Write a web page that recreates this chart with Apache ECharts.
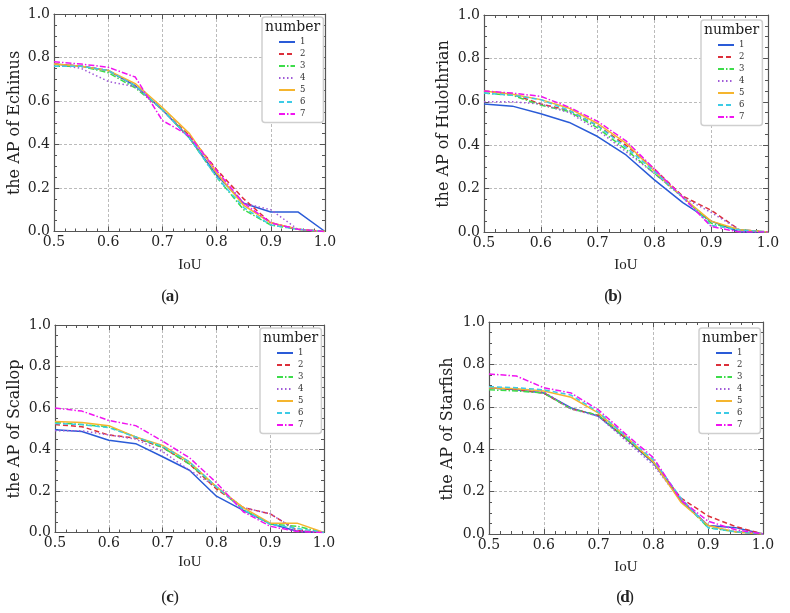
<!DOCTYPE html>
<html>
<head>
<meta charset="utf-8">
<script src="https://cdn.jsdelivr.net/npm/echarts@6/dist/echarts.min.js"></script>
<style>
html,body{margin:0;padding:0;background:#fff;}
#chart{width:790px;height:613px;}
</style>
</head>
<body>
<div id="chart"></div>
<script>
// ---- data ----
const iou = [0.5, 0.55, 0.6, 0.65, 0.7, 0.75, 0.8, 0.85, 0.9, 0.95, 1.0];
const seriesNames = ['1', '2', '3', '4', '5', '6', '7'];
const xTickLabels = ['0.5', '0.6', '0.7', '0.8', '0.9', '1.0'];
const yTickLabels = ['0.0', '0.2', '0.4', '0.6', '0.8', '1.0'];
const panelTitles = ['the AP of Echinus', 'the AP of Hulothrian', 'the AP of Scallop', 'the AP of Starfish'];
const panelCaptions = ['a', 'b', 'c', 'd'];

const echinusAP = [
  [0.77, 0.76, 0.74, 0.67, 0.56, 0.43, 0.26, 0.13, 0.09, 0.09, 0.0],
  [0.77, 0.76, 0.74, 0.67, 0.56, 0.44, 0.285, 0.15, 0.04, 0.01, 0.0],
  [0.76, 0.76, 0.73, 0.66, 0.56, 0.43, 0.25, 0.10, 0.03, 0.01, 0.0],
  [0.77, 0.75, 0.69, 0.665, 0.56, 0.43, 0.26, 0.13, 0.10, 0.01, 0.0],
  [0.77, 0.76, 0.74, 0.68, 0.57, 0.45, 0.27, 0.12, 0.04, 0.01, 0.0],
  [0.76, 0.76, 0.74, 0.67, 0.56, 0.43, 0.25, 0.11, 0.03, 0.01, 0.0],
  [0.78, 0.77, 0.755, 0.71, 0.51, 0.44, 0.28, 0.13, 0.04, 0.01, 0.0]
];
const hulothrianAP = [
  [0.59, 0.58, 0.545, 0.505, 0.44, 0.355, 0.24, 0.135, 0.05, 0.0, 0.0],
  [0.65, 0.635, 0.59, 0.56, 0.49, 0.40, 0.29, 0.165, 0.10, 0.01, 0.0],
  [0.64, 0.63, 0.585, 0.555, 0.48, 0.38, 0.27, 0.16, 0.04, 0.01, 0.0],
  [0.60, 0.60, 0.59, 0.55, 0.47, 0.37, 0.27, 0.16, 0.09, 0.01, 0.0],
  [0.65, 0.635, 0.61, 0.57, 0.50, 0.41, 0.28, 0.16, 0.05, 0.01, 0.0],
  [0.64, 0.63, 0.61, 0.56, 0.49, 0.39, 0.28, 0.16, 0.03, 0.01, 0.0],
  [0.65, 0.64, 0.625, 0.575, 0.51, 0.42, 0.29, 0.16, 0.025, 0.0, 0.0]
];
const scallopAP = [
  [0.495, 0.487, 0.445, 0.428, 0.365, 0.30, 0.175, 0.107, 0.043, 0.006, 0.0],
  [0.52, 0.51, 0.47, 0.455, 0.41, 0.33, 0.21, 0.12, 0.09, 0.01, 0.0],
  [0.53, 0.52, 0.51, 0.46, 0.41, 0.33, 0.22, 0.11, 0.04, 0.03, 0.0],
  [0.49, 0.49, 0.47, 0.45, 0.39, 0.30, 0.22, 0.12, 0.09, 0.01, 0.0],
  [0.535, 0.53, 0.515, 0.46, 0.42, 0.34, 0.22, 0.12, 0.045, 0.045, 0.0],
  [0.525, 0.52, 0.505, 0.46, 0.415, 0.34, 0.22, 0.11, 0.04, 0.02, 0.0],
  [0.60, 0.585, 0.54, 0.515, 0.44, 0.36, 0.24, 0.10, 0.03, 0.005, 0.0]
];
const starfishAP = [
  [0.69, 0.68, 0.665, 0.595, 0.555, 0.45, 0.335, 0.16, 0.04, 0.03, 0.0],
  [0.69, 0.68, 0.665, 0.59, 0.56, 0.45, 0.34, 0.17, 0.085, 0.035, 0.0],
  [0.68, 0.675, 0.665, 0.59, 0.56, 0.45, 0.34, 0.16, 0.03, 0.01, 0.0],
  [0.69, 0.685, 0.67, 0.59, 0.555, 0.44, 0.325, 0.16, 0.04, 0.01, 0.0],
  [0.69, 0.685, 0.675, 0.645, 0.57, 0.46, 0.34, 0.15, 0.04, 0.01, 0.0],
  [0.695, 0.69, 0.68, 0.655, 0.575, 0.46, 0.35, 0.17, 0.03, 0.01, 0.0],
  [0.755, 0.745, 0.69, 0.665, 0.585, 0.47, 0.36, 0.16, 0.06, 0.02, 0.0]
];
const panels = [echinusAP, hulothrianAP, scallopAP, starfishAP];

// ---- styling ----
const colors = ['#2a5bd7', '#dc2f3a', '#3ddc4a', '#a05bd8', '#f5b52e', '#3ccbe6', '#f014f0'];
const dashes = ['solid', [5, 3], [6, 2, 1.5, 2], [1.5, 2.5], 'solid', [5, 3], [6, 2, 1.5, 2]];
const grids = [
  {left: 54, top: 14, width: 271, height: 217.5},
  {left: 484, top: 15, width: 284, height: 217},
  {left: 55, top: 325, width: 269, height: 207.5},
  {left: 489, top: 322, width: 274, height: 212}
];
const legendPos = [[262, 17], [701, 20], [260, 328], [699, 328]];
const yNamePos = [[15, 123], [444, 124], [15, 429], [448, 429]];
const xNamePos = [[190, 265], [626, 265], [190, 562], [626, 567]];
const capPos = [[170, 297], [613, 297], [170, 598], [625, 598]];

const serif = 'DejaVu Serif';
const axisColor = '#555';

const xAxes = [], yAxes = [], series = [], legends = [], graphics = [];
grids.forEach((g, k) => {
  const xBase = {
    type: 'value', gridIndex: k, min: 0.5, max: 1.0, interval: 0.1,
    axisLine: {show: true, onZero: false, lineStyle: {color: axisColor, width: 1.2}},
    axisTick: {show: true, inside: true, length: 5, lineStyle: {color: axisColor}},
    minorTick: {show: true, splitNumber: 5, length: 3, lineStyle: {color: axisColor}},
  };
  const yBase = {
    type: 'value', gridIndex: k, min: 0, max: 1, interval: 0.2,
    axisLine: {show: true, onZero: false, lineStyle: {color: axisColor, width: 1.2}},
    axisTick: {show: true, inside: true, length: 5, lineStyle: {color: axisColor}},
    minorTick: {show: true, splitNumber: 4, length: 3, lineStyle: {color: axisColor}},
  };
  xAxes.push(Object.assign({}, xBase, {
    position: 'bottom',
    axisLabel: {show: true, margin: 4, color: '#222', fontFamily: serif, fontSize: 14,
      formatter: v => xTickLabels[Math.round((v - 0.5) * 10)]},
    splitLine: {show: true, lineStyle: {color: '#aaa', type: [3, 2], width: 0.8}}
  }));
  xAxes.push(Object.assign({}, xBase, {
    position: 'top', axisLabel: {show: false}, splitLine: {show: false}
  }));
  yAxes.push(Object.assign({}, yBase, {
    position: 'left',
    axisLabel: {show: true, margin: 4, color: '#222', fontFamily: serif, fontSize: 14,
      formatter: v => yTickLabels[Math.round(v * 5)]},
    splitLine: {show: true, lineStyle: {color: '#aaa', type: [3, 2], width: 0.8}}
  }));
  yAxes.push(Object.assign({}, yBase, {
    position: 'right', axisLabel: {show: false}, splitLine: {show: false}
  }));

  panels[k].forEach((vals, s) => {
    series.push({
      type: 'line', name: seriesNames[s],
      xAxisIndex: 2 * k, yAxisIndex: 2 * k,
      symbol: 'none', animation: false,
      data: iou.map((x, i) => [x, vals[i]]),
      lineStyle: {color: colors[s], width: 1.5, type: dashes[s]},
      itemStyle: {color: colors[s]}
    });
  });

  legends.push({
    orient: 'vertical', left: legendPos[k][0], top: legendPos[k][1],
    data: seriesNames, selectedMode: false,
    padding: [20.5, 18, 4, 16], itemWidth: 16, itemHeight: 8, itemGap: 3,
    itemStyle: {opacity: 0, borderWidth: 0},
    backgroundColor: '#fff', borderColor: '#cfcfcf', borderWidth: 1.5, borderRadius: 3,
    textStyle: {fontFamily: serif, fontSize: 8.5, lineHeight: 8, color: '#333'}
  });
  graphics.push({
    type: 'text', z: 100, x: legendPos[k][0] + 30.5, y: legendPos[k][1] + 10,
    style: {text: 'number', font: '14px "DejaVu Serif"', fill: '#222', align: 'center', verticalAlign: 'middle'}
  });
  graphics.push({
    type: 'text', x: yNamePos[k][0], y: yNamePos[k][1], rotation: Math.PI / 2,
    style: {text: panelTitles[k], font: '16px "DejaVu Serif"', fill: '#222', align: 'center', verticalAlign: 'middle'}
  });
  graphics.push({
    type: 'text', x: xNamePos[k][0], y: xNamePos[k][1],
    style: {text: 'IoU', font: '15px "Liberation Serif"', fill: '#222', align: 'center', verticalAlign: 'middle'}
  });
  graphics.push({
    type: 'text', x: capPos[k][0] - 6, y: capPos[k][1],
    style: {text: '(', font: '17px "Liberation Serif"', fill: '#222', align: 'center', verticalAlign: 'middle'}
  });
  graphics.push({
    type: 'text', x: capPos[k][0], y: capPos[k][1],
    style: {text: panelCaptions[k], font: 'bold 17px "Liberation Serif"', fill: '#222', align: 'center', verticalAlign: 'middle'}
  });
  graphics.push({
    type: 'text', x: capPos[k][0] + 6, y: capPos[k][1],
    style: {text: ')', font: '17px "Liberation Serif"', fill: '#222', align: 'center', verticalAlign: 'middle'}
  });
});

const chart = echarts.init(document.getElementById('chart'), null, {renderer: 'canvas'});
chart.setOption({
  animation: false,
  backgroundColor: '#fff',
  grid: grids.map(g => Object.assign({containLabel: false}, g)),
  xAxis: xAxes,
  yAxis: yAxes,
  legend: legends,
  series: series,
  graphic: graphics
});
</script>
</body>
</html>
